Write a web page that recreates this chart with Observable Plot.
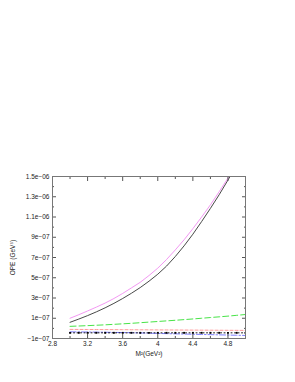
<!DOCTYPE html>
<html>
<head>
<meta charset="utf-8">
<script src="https://cdn.jsdelivr.net/npm/d3@7"></script>
<script src="https://cdn.jsdelivr.net/npm/@observablehq/plot@0.6"></script>
<style>
  html, body { margin: 0; padding: 0; background: #fff; }
</style>
</head>
<body>
<div id="chart"></div>
<script>
// Borel mass M^2 (GeV^2)
const m2 = [3.0,3.1,3.2,3.3,3.4,3.5,3.6,3.7,3.8,3.9,4.0,4.1,4.2,4.3,4.4,4.5,4.6,4.7,4.8,4.9,5.0];
// OPE contributions, in units of 1e-7 GeV^5
const totalBlack = [0.60,0.92,1.26,1.63,2.03,2.47,2.95,3.47,4.03,4.66,5.35,6.15,7.10,8.15,9.30,10.55,11.85,13.20,14.65,16.10,17.60];
const totalPink  = [1.00,1.35,1.72,2.10,2.50,2.95,3.45,4.00,4.55,5.22,5.95,6.80,7.75,8.75,9.85,11.00,12.20,13.50,14.85,16.25,17.70];
const greenDash  = [0.20,0.235,0.27,0.31,0.35,0.40,0.45,0.50,0.56,0.62,0.68,0.74,0.80,0.865,0.93,1.00,1.07,1.14,1.21,1.29,1.37];
const redDash    = [-0.10,-0.105,-0.11,-0.115,-0.12,-0.125,-0.13,-0.135,-0.14,-0.145,-0.15,-0.155,-0.16,-0.165,-0.17,-0.175,-0.18,-0.185,-0.19,-0.195,-0.20];
const blueDashDot= [-0.34,-0.35,-0.36,-0.37,-0.38,-0.40,-0.41,-0.43,-0.45,-0.47,-0.50,-0.52,-0.54,-0.56,-0.58,-0.60,-0.62,-0.64,-0.66,-0.68,-0.70];
const blackDots  = [-0.44,-0.44,-0.44,-0.44,-0.44,-0.44,-0.44,-0.44,-0.44,-0.44,-0.44,-0.44,-0.44,-0.44,-0.44,-0.44,-0.44,-0.44,-0.44,-0.44,-0.44];
const UNIT = 1e-7;

const xMajor = [2.8,3.2,3.6,4.0,4.4,4.8];
const xMinor = [3.0,3.4,3.8,4.2,4.6,5.0];
const yMajor = [-1e-7,1e-7,3e-7,5e-7,7e-7,9e-7,1.1e-6,1.3e-6,1.5e-6];
const yMinor = [0,2e-7,4e-7,6e-7,8e-7,1e-6,1.2e-6,1.4e-6];

const series = [
  {name: "black", values: totalBlack, stroke: "#333", dash: null},
  {name: "pink", values: totalPink, stroke: "#f08cf0", dash: null},
  {name: "green", values: greenDash, stroke: "#33e033", dash: "6,3"},
  {name: "red", values: redDash, stroke: "#ff8f8f", dash: "3,2"},
  {name: "blue", values: blueDashDot, stroke: "#7070ff", dash: "6,2,1.5,2"},
  {name: "dots", values: blackDots, stroke: "#000", dash: "1,2.5"}
];
const rows = s => m2.map((x, i) => ({x, y: s.values[i] * UNIT}));

function fmtE(v) {
  let [m, e] = v.toExponential().split("e");
  const n = +e;
  const sign = n < 0 ? "\u2212" : "+";
  const ex = String(Math.abs(n)).padStart(2, "0");
  m = m.replace("-", "\u2212");
  return m + "e" + sign + ex;
}
const fmtX = d => String(+d.toFixed(1)).replace(/\.0$/, "");

const font = "Liberation Sans, Arial, Helvetica, sans-serif";
const tickColor = "#555";

const marks = [];
series.forEach(s => {
  marks.push(Plot.line(rows(s), {x: "x", y: "y", stroke: s.stroke, strokeWidth: 0.9, strokeDasharray: s.dash, clip: true}));
});
marks.push(Plot.dot(rows(series[5]), {x: "x", y: "y", symbol: "square", r: 1.05, fill: "#000", stroke: null, clip: true}));

// tick labels
marks.push(Plot.axisY(yMajor, {anchor: "left", tickSize: 0, tickPadding: 3, tickFormat: fmtE, fontSize: 6.5,
  label: "OPE (GeV\u2075)", labelAnchor: "center", labelOffset: 42, labelArrow: "none", fontSize: 6.5}));
marks.push(Plot.axisX(xMajor, {anchor: "bottom", tickSize: 0, tickPadding: 3, tickFormat: fmtX, fontSize: 6.5,
  label: "M\u00b2(GeV\u00b2)", labelAnchor: "center", labelOffset: 17, labelArrow: "none"}));
// inward ticks on all four sides
const blank = () => "";
marks.push(Plot.axisY(yMajor, {anchor: "left", tickSize: 4, dx: 4, tickFormat: blank, label: null, stroke: tickColor}));
marks.push(Plot.axisY(yMinor, {anchor: "left", tickSize: 2, dx: 2, tickFormat: blank, label: null, stroke: tickColor}));
marks.push(Plot.axisY(yMajor, {anchor: "right", tickSize: 4, dx: -4, tickFormat: blank, label: null, stroke: tickColor}));
marks.push(Plot.axisY(yMinor, {anchor: "right", tickSize: 2, dx: -2, tickFormat: blank, label: null, stroke: tickColor}));
marks.push(Plot.axisX(xMajor, {anchor: "bottom", tickSize: 4, dy: -4, tickFormat: blank, label: null, stroke: tickColor}));
marks.push(Plot.axisX(xMinor, {anchor: "bottom", tickSize: 2, dy: -2, tickFormat: blank, label: null, stroke: tickColor}));
marks.push(Plot.axisX(xMajor, {anchor: "top", tickSize: 4, dy: 4, tickFormat: blank, label: null, stroke: tickColor}));
marks.push(Plot.axisX(xMinor, {anchor: "top", tickSize: 2, dy: 2, tickFormat: blank, label: null, stroke: tickColor}));
marks.push(Plot.frame({stroke: "#777", strokeWidth: 1}));

const chart = Plot.plot({
  width: 295,
  height: 382,
  marginTop: 176,
  marginBottom: 44,
  marginLeft: 52,
  marginRight: 50,
  style: {fontFamily: font, fontSize: "6.5px", color: "#222", background: "#fff"},
  x: {domain: [2.8, 5.0]},
  y: {domain: [-1e-7, 1.5e-6]},
  marks
});
document.getElementById("chart").appendChild(chart);
</script>
</body>
</html>
